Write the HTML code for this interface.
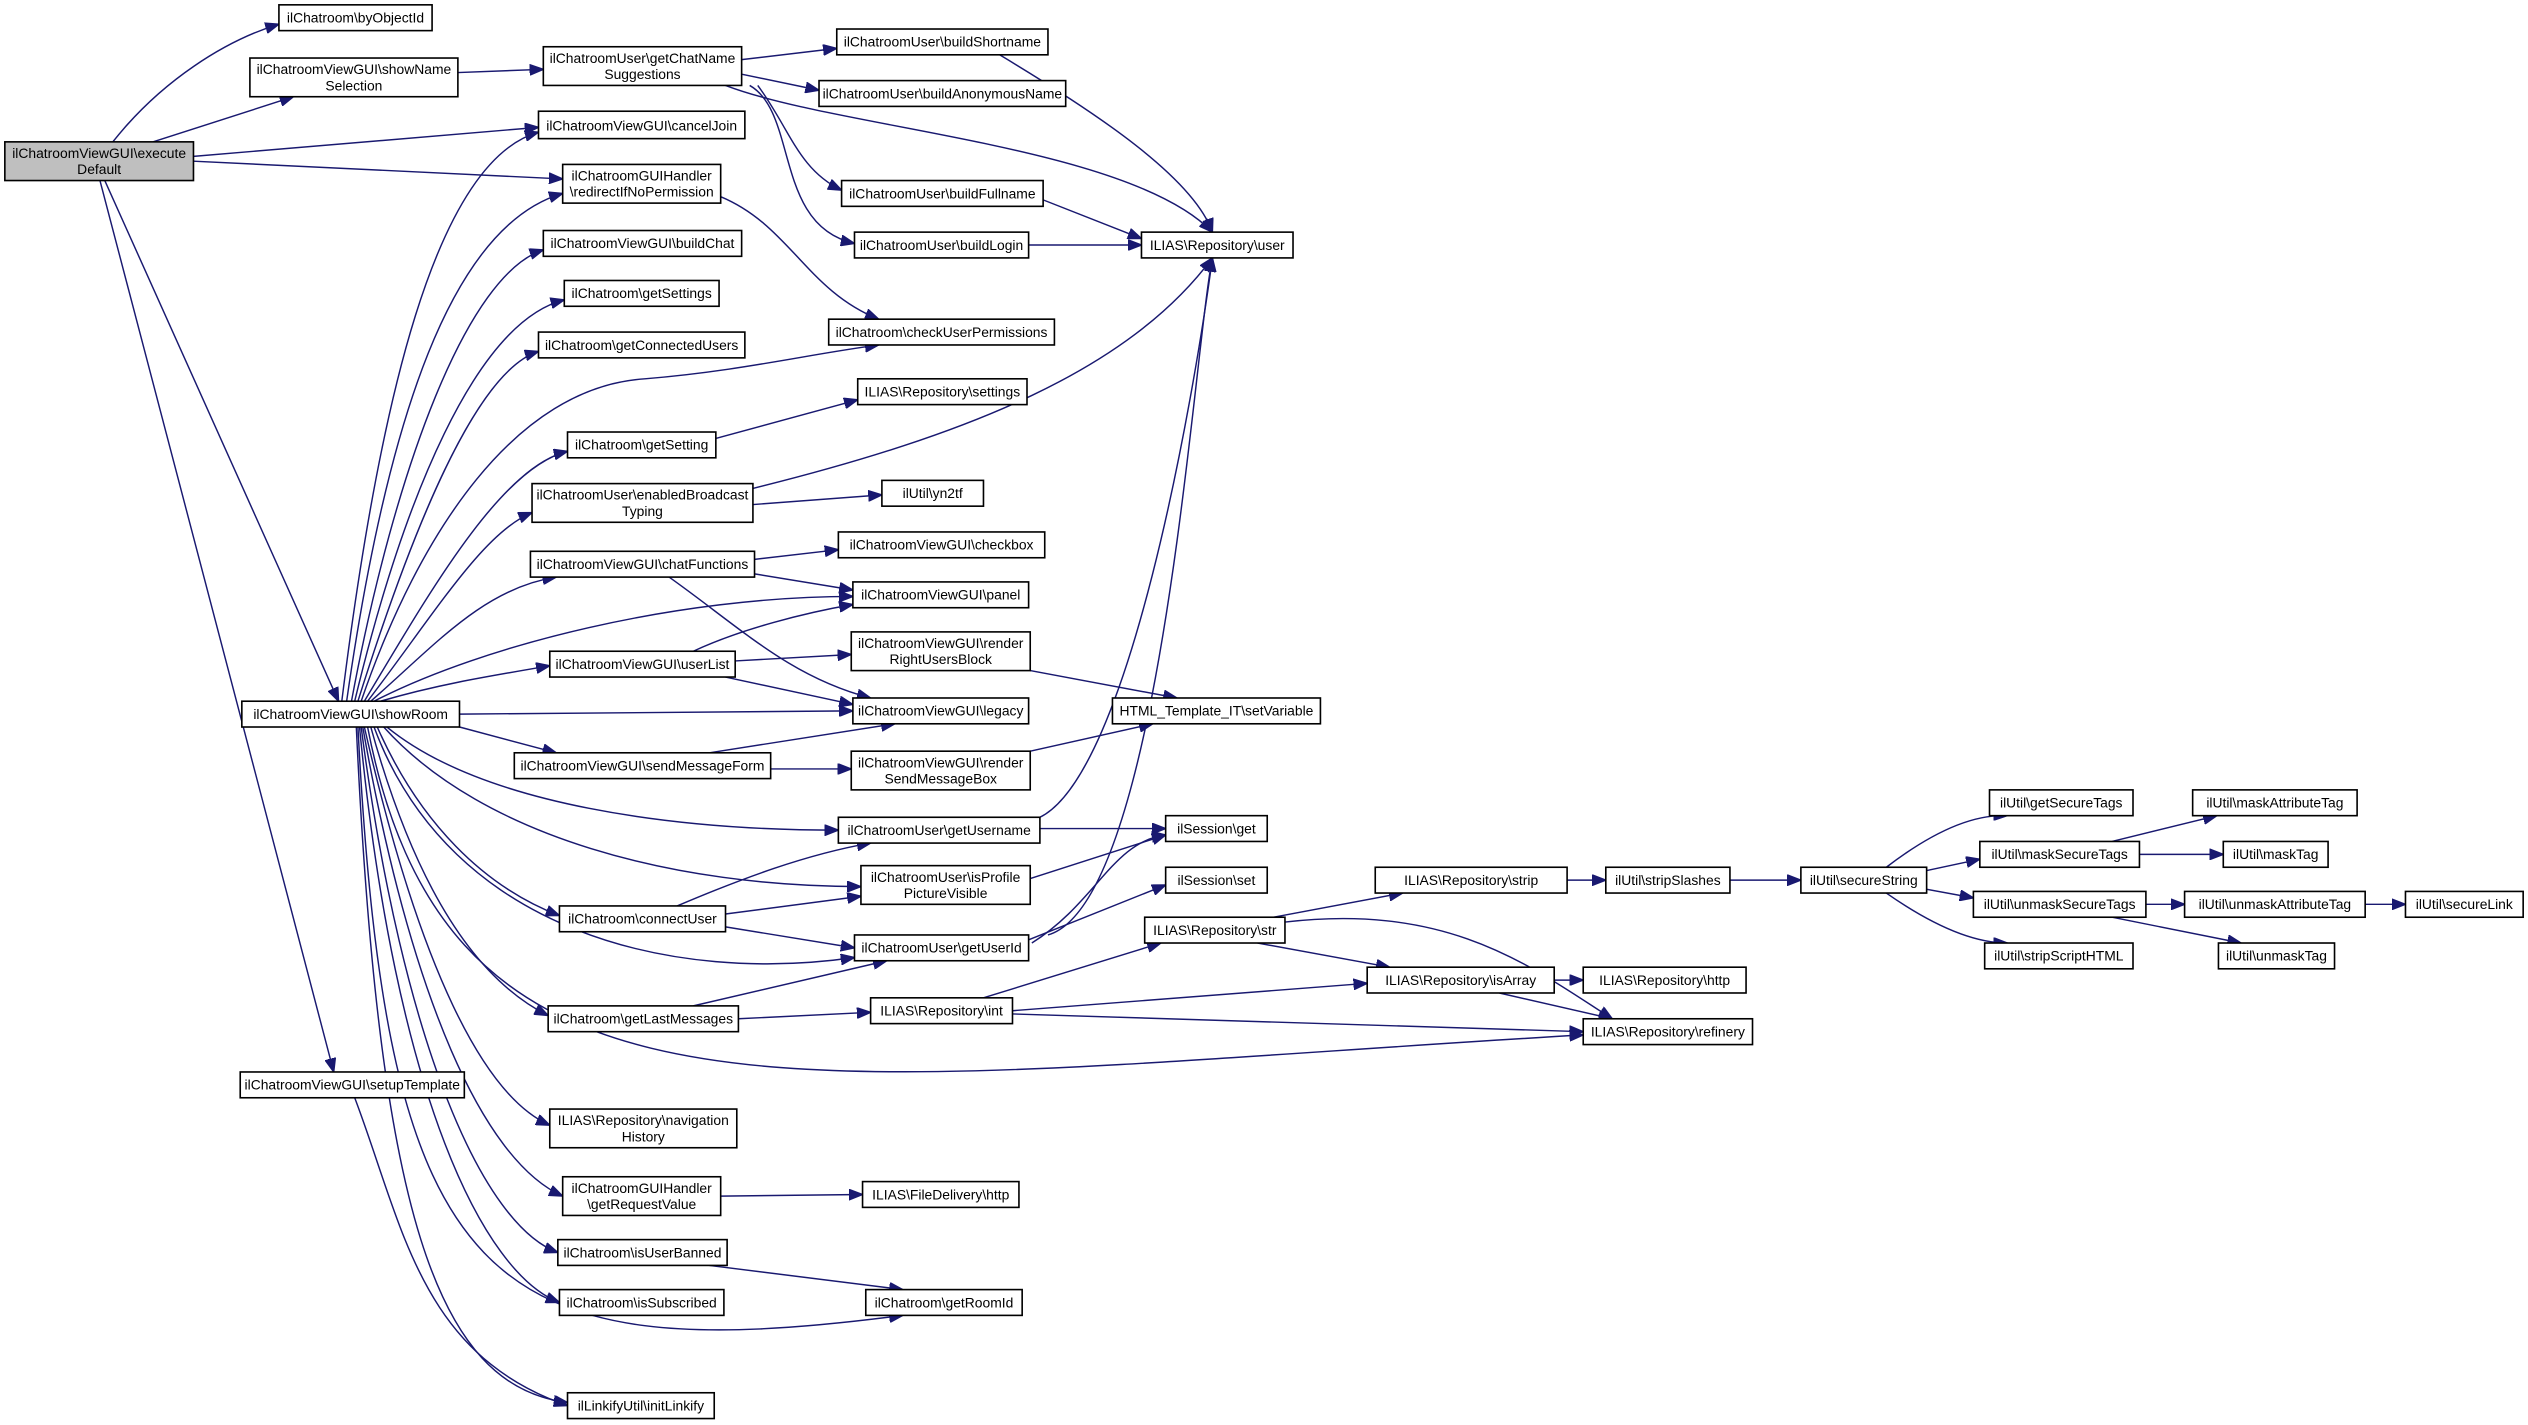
<!DOCTYPE html>
<html><head><meta charset="utf-8"><style>
html,body{margin:0;padding:0;background:#fff;}
svg{display:block;}
text{font-family:"Liberation Sans",Arial,sans-serif;font-size:8.6px;fill:#000;text-anchor:middle;}
rect{fill:#fff;stroke:#000;stroke-width:1;}
path{fill:none;stroke:#191970;stroke-width:0.9;}
</style></head><body>
<svg width="2528" height="1425" viewBox="0 0 1568 884" preserveAspectRatio="none" xmlns="http://www.w3.org/2000/svg">
<defs><marker id="a" markerWidth="9" markerHeight="7" refX="8.5" refY="3.5" orient="auto" markerUnits="userSpaceOnUse"><polygon points="0,0 9,3.5 0,7" fill="#191970" stroke="#191970" stroke-width="0.5"/></marker></defs>
<g marker-end="url(#a)">
<path d="M70,88 C100,50 140,25 173,15"/>
<path d="M95,88 L182,60"/>
<path d="M120,97 L334,79"/>
<path d="M120,100 L349,111"/>
<path d="M65,112 L210,435"/>
<path d="M62,112 L207,665"/>
<path d="M284,45 L337,43"/>
<path d="M460,37 L519,30"/>
<path d="M460,46 L508,56"/>
<path d="M470,53 C490,80 495,105 522,118"/>
<path d="M465,53 C495,70 480,140 530,151"/>
<path d="M450,53 C520,80 700,90 752,144"/>
<path d="M620,34 C680,70 740,110 752,144"/>
<path d="M647,124 L708,148"/>
<path d="M638,152 L708,152"/>
<path d="M447,122 C490,140 500,180 545,198"/>
<path d="M444,272 L532,248"/>
<path d="M467,303 C600,270 700,230 752,160"/>
<path d="M467,313 L547,307"/>
<path d="M468,347 L520,341"/>
<path d="M468,356 L529,366"/>
<path d="M415,358 C460,390 490,420 540,433"/>
<path d="M430,404 C460,390 500,380 529,375"/>
<path d="M456,410 L528,406"/>
<path d="M450,420 L529,437"/>
<path d="M639,416 L730,433"/>
<path d="M440,467 L555,449"/>
<path d="M478,477 L528,477"/>
<path d="M639,466 L715,449"/>
<path d="M645,514 L723,514"/>
<path d="M645,507 C700,480 740,250 752,160"/>
<path d="M639,545 L723,518"/>
<path d="M640,585 C680,560 690,522 723,518"/>
<path d="M650,580 C720,560 740,220 752,160"/>
<path d="M638,583 L723,549"/>
<path d="M420,562 C460,545 500,530 540,523"/>
<path d="M450,567 L534,556"/>
<path d="M450,575 L530,588"/>
<path d="M430,624 L550,596"/>
<path d="M458,632 L540,628"/>
<path d="M610,619 L720,585"/>
<path d="M628,627 L848,610"/>
<path d="M628,629 L982,640"/>
<path d="M790,569 L870,554"/>
<path d="M780,585 L862,600"/>
<path d="M797,572 C900,560 950,600 1000,632"/>
<path d="M964,608 L982,608"/>
<path d="M930,616 L1000,632"/>
<path d="M972,546 L996,546"/>
<path d="M1073,546 L1117,546"/>
<path d="M1170,538 C1200,515 1225,505 1245,506"/>
<path d="M1186,542 L1228,533"/>
<path d="M1186,550 L1224,557"/>
<path d="M1170,554 C1200,575 1225,585 1245,585"/>
<path d="M1310,522 L1375,506"/>
<path d="M1327,530 L1379,530"/>
<path d="M1331,561 L1355,561"/>
<path d="M1310,569 L1390,585"/>
<path d="M1467,561 L1492,561"/>
<path d="M447,742 L535,741"/>
<path d="M440,785 L560,800"/>
<path d="M220,681 C250,760 260,840 352,872"/>
<!-- showRoom fan -->
<path d="M212,435 C235,250 270,100 334,82"/>
<path d="M215,435 C240,260 280,140 349,120"/>
<path d="M218,435 C245,290 290,170 337,155"/>
<path d="M220,435 C250,310 295,200 350,186"/>
<path d="M222,435 C255,330 295,230 334,218"/>
<path d="M224,435 C260,330 320,240 400,235 C460,230 500,220 545,214"/>
<path d="M226,435 C265,370 310,290 352,280"/>
<path d="M228,435 C270,380 300,330 330,318"/>
<path d="M230,435 C270,400 300,365 345,358"/>
<path d="M232,435 C300,400 420,370 529,370"/>
<path d="M236,435 C270,425 300,420 341,413"/>
<path d="M285,443 L529,441"/>
<path d="M285,451 L345,467"/>
<path d="M240,451 C300,500 420,515 520,515"/>
<path d="M238,451 C300,520 420,550 534,550"/>
<path d="M234,451 C260,510 300,550 347,568"/>
<path d="M232,451 C280,580 420,610 530,594"/>
<path d="M230,451 C260,560 300,610 340,630"/>
<path d="M228,451 C280,720 500,670 982,642"/>
<path d="M226,451 C260,600 300,680 341,698"/>
<path d="M225,451 C255,620 300,720 349,742"/>
<path d="M224,451 C250,650 300,760 346,777"/>
<path d="M223,451 C245,680 300,790 347,808"/>
<path d="M222,451 C240,800 300,850 560,816"/>
<path d="M221,451 C235,750 270,860 352,870"/>
</g>
<g>
<rect x="3" y="88" width="117" height="24" style="fill:#bfbfbf"/><text x="61.5" y="98">ilChatroomViewGUI\execute</text><text x="61.5" y="108">Default</text>
<rect x="173" y="3" width="95" height="16"/><text x="220.5" y="14">ilChatroom\byObjectId</text>
<rect x="155" y="36" width="129" height="24"/><text x="219.5" y="46">ilChatroomViewGUI\showName</text><text x="219.5" y="56">Selection</text>
<rect x="337" y="29" width="123" height="24"/><text x="398.5" y="39">ilChatroomUser\getChatName</text><text x="398.5" y="49">Suggestions</text>
<rect x="334" y="69" width="128" height="17"/><text x="398" y="81">ilChatroomViewGUI\cancelJoin</text>
<rect x="349" y="102" width="98" height="24"/><text x="398" y="112">ilChatroomGUIHandler</text><text x="398" y="122">\redirectIfNoPermission</text>
<rect x="337" y="143" width="123" height="16"/><text x="398.5" y="154">ilChatroomViewGUI\buildChat</text>
<rect x="350" y="174" width="96" height="16"/><text x="398" y="185">ilChatroom\getSettings</text>
<rect x="334" y="206" width="128" height="16"/><text x="398" y="217">ilChatroom\getConnectedUsers</text>
<rect x="352" y="268" width="92" height="16"/><text x="398" y="279">ilChatroom\getSetting</text>
<rect x="330" y="300" width="137" height="24"/><text x="398.5" y="310">ilChatroomUser\enabledBroadcast</text><text x="398.5" y="320">Typing</text>
<rect x="329" y="342" width="139" height="16"/><text x="398.5" y="353">ilChatroomViewGUI\chatFunctions</text>
<rect x="341" y="404" width="115" height="16"/><text x="398.5" y="415">ilChatroomViewGUI\userList</text>
<rect x="319" y="467" width="159" height="16"/><text x="398.5" y="478">ilChatroomViewGUI\sendMessageForm</text>
<rect x="347" y="562" width="103" height="16"/><text x="398.5" y="573">ilChatroom\connectUser</text>
<rect x="340" y="624" width="118" height="16"/><text x="399" y="635">ilChatroom\getLastMessages</text>
<rect x="341" y="688" width="116" height="24"/><text x="399" y="698">ILIAS\Repository\navigation</text><text x="399" y="708">History</text>
<rect x="349" y="730" width="98" height="24"/><text x="398" y="740">ilChatroomGUIHandler</text><text x="398" y="750">\getRequestValue</text>
<rect x="346" y="769" width="105" height="16"/><text x="398.5" y="780">ilChatroom\isUserBanned</text>
<rect x="347" y="800" width="102" height="16"/><text x="398" y="811">ilChatroom\isSubscribed</text>
<rect x="352" y="864" width="91" height="16"/><text x="397.5" y="875">ilLinkifyUtil\initLinkify</text>
<rect x="150" y="435" width="135" height="16"/><text x="217.5" y="446">ilChatroomViewGUI\showRoom</text>
<rect x="149" y="665" width="139" height="16"/><text x="218.5" y="676">ilChatroomViewGUI\setupTemplate</text>
<rect x="519" y="18" width="131" height="16"/><text x="584.5" y="29">ilChatroomUser\buildShortname</text>
<rect x="508" y="50" width="153" height="16"/><text x="584.5" y="61">ilChatroomUser\buildAnonymousName</text>
<rect x="522" y="112" width="125" height="16"/><text x="584.5" y="123">ilChatroomUser\buildFullname</text>
<rect x="530" y="144" width="108" height="16"/><text x="584" y="155">ilChatroomUser\buildLogin</text>
<rect x="514" y="198" width="140" height="16"/><text x="584" y="209">ilChatroom\checkUserPermissions</text>
<rect x="532" y="235" width="105" height="16"/><text x="584.5" y="246">ILIAS\Repository\settings</text>
<rect x="547" y="298" width="63" height="16"/><text x="578.5" y="309">ilUtil\yn2tf</text>
<rect x="520" y="330" width="128" height="16"/><text x="584" y="341">ilChatroomViewGUI\checkbox</text>
<rect x="529" y="361" width="109" height="16"/><text x="583.5" y="372">ilChatroomViewGUI\panel</text>
<rect x="528" y="392" width="111" height="24"/><text x="583.5" y="402">ilChatroomViewGUI\render</text><text x="583.5" y="412">RightUsersBlock</text>
<rect x="529" y="433" width="109" height="16"/><text x="583.5" y="444">ilChatroomViewGUI\legacy</text>
<rect x="528" y="466" width="111" height="24"/><text x="583.5" y="476">ilChatroomViewGUI\render</text><text x="583.5" y="486">SendMessageBox</text>
<rect x="520" y="507" width="125" height="16"/><text x="582.5" y="518">ilChatroomUser\getUsername</text>
<rect x="534" y="537" width="105" height="24"/><text x="586.5" y="547">ilChatroomUser\isProfile</text><text x="586.5" y="557">PictureVisible</text>
<rect x="530" y="580" width="108" height="16"/><text x="584" y="591">ilChatroomUser\getUserId</text>
<rect x="540" y="619" width="88" height="16"/><text x="584" y="630">ILIAS\Repository\int</text>
<rect x="535" y="733" width="97" height="16"/><text x="583.5" y="744">ILIAS\FileDelivery\http</text>
<rect x="537" y="800" width="97" height="16"/><text x="585.5" y="811">ilChatroom\getRoomId</text>
<rect x="708" y="144" width="94" height="16"/><text x="755" y="155">ILIAS\Repository\user</text>
<rect x="690" y="433" width="129" height="16"/><text x="754.5" y="444">HTML_Template_IT\setVariable</text>
<rect x="723" y="506" width="63" height="16"/><text x="754.5" y="517">ilSession\get</text>
<rect x="723" y="538" width="63" height="16"/><text x="754.5" y="549">ilSession\set</text>
<rect x="710" y="569" width="87" height="16"/><text x="753.5" y="580">ILIAS\Repository\str</text>
<rect x="853" y="538" width="119" height="16"/><text x="912.5" y="549">ILIAS\Repository\strip</text>
<rect x="848" y="600" width="116" height="16"/><text x="906" y="611">ILIAS\Repository\isArray</text>
<rect x="982" y="600" width="101" height="16"/><text x="1032.5" y="611">ILIAS\Repository\http</text>
<rect x="982" y="632" width="105" height="16"/><text x="1034.5" y="643">ILIAS\Repository\refinery</text>
<rect x="996" y="538" width="77" height="16"/><text x="1034.5" y="549">ilUtil\stripSlashes</text>
<rect x="1117" y="538" width="78" height="16"/><text x="1156" y="549">ilUtil\secureString</text>
<rect x="1234" y="490" width="89" height="16"/><text x="1278.5" y="501">ilUtil\getSecureTags</text>
<rect x="1228" y="522" width="99" height="16"/><text x="1277.5" y="533">ilUtil\maskSecureTags</text>
<rect x="1224" y="553" width="107" height="16"/><text x="1277.5" y="564">ilUtil\unmaskSecureTags</text>
<rect x="1231" y="585" width="92" height="16"/><text x="1277" y="596">ilUtil\stripScriptHTML</text>
<rect x="1360" y="490" width="102" height="16"/><text x="1411" y="501">ilUtil\maskAttributeTag</text>
<rect x="1379" y="522" width="65" height="16"/><text x="1411.5" y="533">ilUtil\maskTag</text>
<rect x="1355" y="553" width="112" height="16"/><text x="1411" y="564">ilUtil\unmaskAttributeTag</text>
<rect x="1376" y="585" width="72" height="16"/><text x="1412" y="596">ilUtil\unmaskTag</text>
<rect x="1492" y="553" width="73" height="16"/><text x="1528.5" y="564">ilUtil\secureLink</text>
</g>
</svg>
</body></html>
